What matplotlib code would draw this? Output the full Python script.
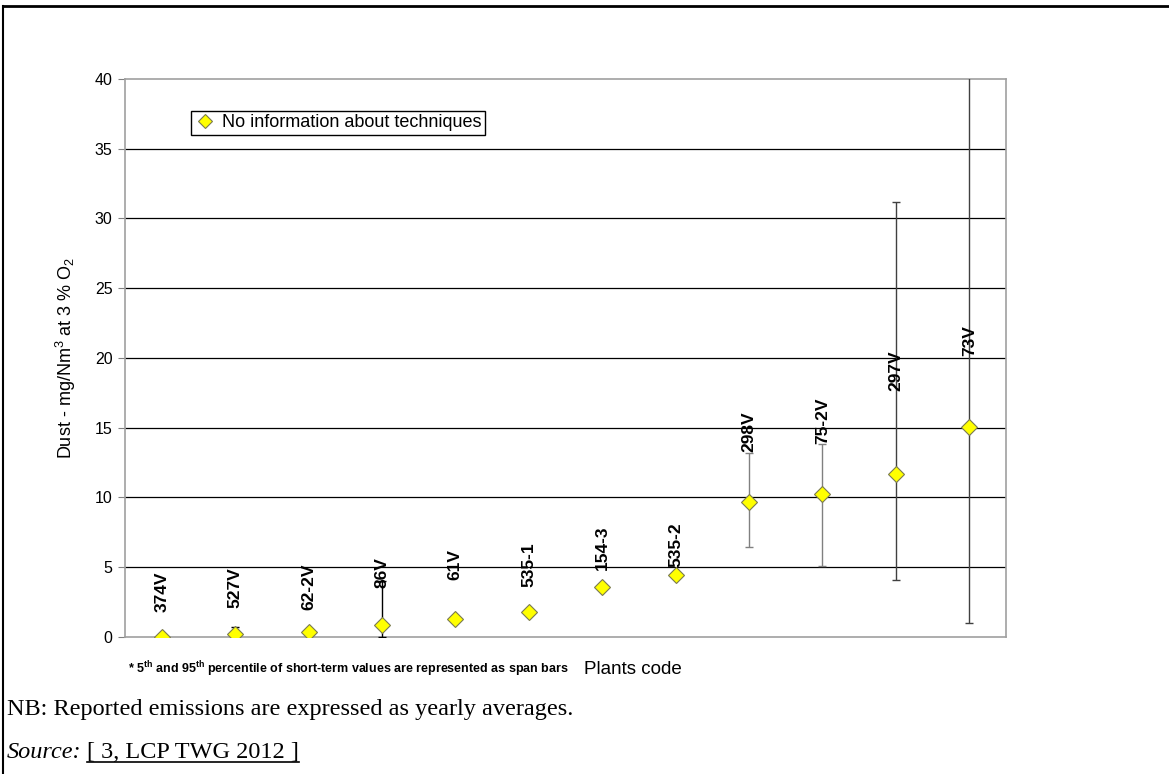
import numpy as np
import matplotlib
matplotlib.use('Agg')
import matplotlib.pyplot as plt
from matplotlib.lines import Line2D

plt.rcParams['font.family'] = ['Liberation Sans', 'DejaVu Sans']
plt.rcParams['mathtext.fontset'] = 'custom'
plt.rcParams['mathtext.rm'] = 'Liberation Sans'
plt.rcParams['mathtext.bf'] = 'Liberation Sans:bold'

# plant codes and yearly averages (mg/Nm3)
plants = ['374V', '527V', '62-2V', '86V', '61V', '535-1', '154-3', '535-2',
          '298V', '75-2V', '297V', '73V']
dust = [0.0, 0.2, 0.34, 0.84, 1.27, 1.82, 3.55, 4.41, 9.67, 10.27, 11.7, 15.08]
# 5th / 95th percentile span bars (nan = none)
p5 = [np.nan, 0.2, np.nan, 0.0, np.nan, np.nan, np.nan, np.nan, 6.42, 5.1, 4.08, 1.0]
p95 = [np.nan, 0.75, np.nan, 4.0, np.nan, np.nan, np.nan, np.nan, 13.2, 13.8, 31.2, 42.0]
bar_colors = ['k', 'k', 'k', 'k', 'k', 'k', 'k', 'k', '#808080', '#808080', '#404040', '#404040']
# where each rotated data label starts
label_y = [1.82, 2.1, 1.94, 3.5, 4.1, 3.6, 4.8, 5.05, 13.25, 13.85, 17.65, 20.15]

fig = plt.figure(figsize=(11.69, 7.74), dpi=100)
ax = fig.add_axes([0.1069, 0.177, 0.7537, 0.721])

x = np.arange(len(plants)) + 0.5

for i in range(len(plants)):
    if np.isnan(p5[i]):
        continue
    ax.errorbar([x[i]], [dust[i]], yerr=[[dust[i] - p5[i]], [p95[i] - dust[i]]],
                fmt='none', ecolor=bar_colors[i], elinewidth=1, capsize=3,
                capthick=1, zorder=3)

ax.plot(x, dust, linestyle='none', marker='D', markersize=8.5,
        markerfacecolor='#ffff00', markeredgecolor='#7a7a50', markeredgewidth=0.8,
        label='No information about techniques', zorder=4)

for i, name in enumerate(plants):
    ax.text(x[i], label_y[i], name, rotation=90, ha='center', va='bottom',
            fontsize=12.5, fontweight='bold', zorder=5)

ax.set_xlim(0, len(plants))
ax.set_ylim(0, 40)
ax.set_yticks(range(0, 41, 5))
ax.set_xticks([])
ax.tick_params(axis='y', length=5, color='#808080', labelsize=11.5, pad=4)
for y in range(5, 40, 5):
    ax.axhline(y, color='#000000', linewidth=0.9, zorder=1)
for s in ax.spines.values():
    s.set_color('#a0a0a0')
    s.set_linewidth(1.2)

ax.set_ylabel('Dust - mg/Nm$^3$ at 3 % O$_2$', fontsize=13, labelpad=12)

leg = ax.legend(loc='upper left', bbox_to_anchor=(0.075, 0.943), borderaxespad=0,
                fontsize=13, frameon=True, fancybox=False, framealpha=1,
                handletextpad=0.3, borderpad=0.2, handlelength=1.2, markerscale=0.8)
leg.get_frame().set_edgecolor('black')
leg.get_frame().set_linewidth(1)

fig.text(128 / 1169, 1 - 669 / 774,
         r'* 5$^{\mathbf{th}}$ and 95$^{\mathbf{th}}$ percentile of short-term values are represented as span bars',
         fontsize=9, fontweight='bold', va='center', ha='left')
fig.text(584 / 1169, 1 - 669 / 774, 'Plants code', fontsize=13.5, va='center', ha='left')

# page notes below the chart
fig.text(7 / 1169, 1 - 709 / 774, 'NB: Reported emissions are expressed as yearly averages.',
         family='Liberation Serif', fontsize=17.5, va='center', ha='left')
src = fig.text(7 / 1169, 1 - 752 / 774, 'Source:', family='Liberation Serif',
               style='italic', fontsize=17.5, va='center', ha='left')
fig.canvas.draw()
r = fig.canvas.get_renderer()
bb = src.get_window_extent(r)
ref = fig.text((bb.x1 + 5) / 1169, 1 - 752 / 774, '[ 3, LCP TWG 2012 ]',
               family='Liberation Serif', fontsize=17.5, va='center', ha='left')
fig.canvas.draw()
bb2 = ref.get_window_extent(r)
uy = (bb2.y0 + 1) / 774
fig.add_artist(Line2D([bb2.x0 / 1169, bb2.x1 / 1169], [uy, uy], color='black', linewidth=1.2))

# page frame (top and left edges)
fig.add_artist(Line2D([3 / 1169, 1], [1 - 6 / 774, 1 - 6 / 774], color='black', linewidth=2))
fig.add_artist(Line2D([3 / 1169, 3 / 1169], [0, 1 - 6 / 774], color='black', linewidth=1.5))

fig.savefig('out.png', dpi=100)
